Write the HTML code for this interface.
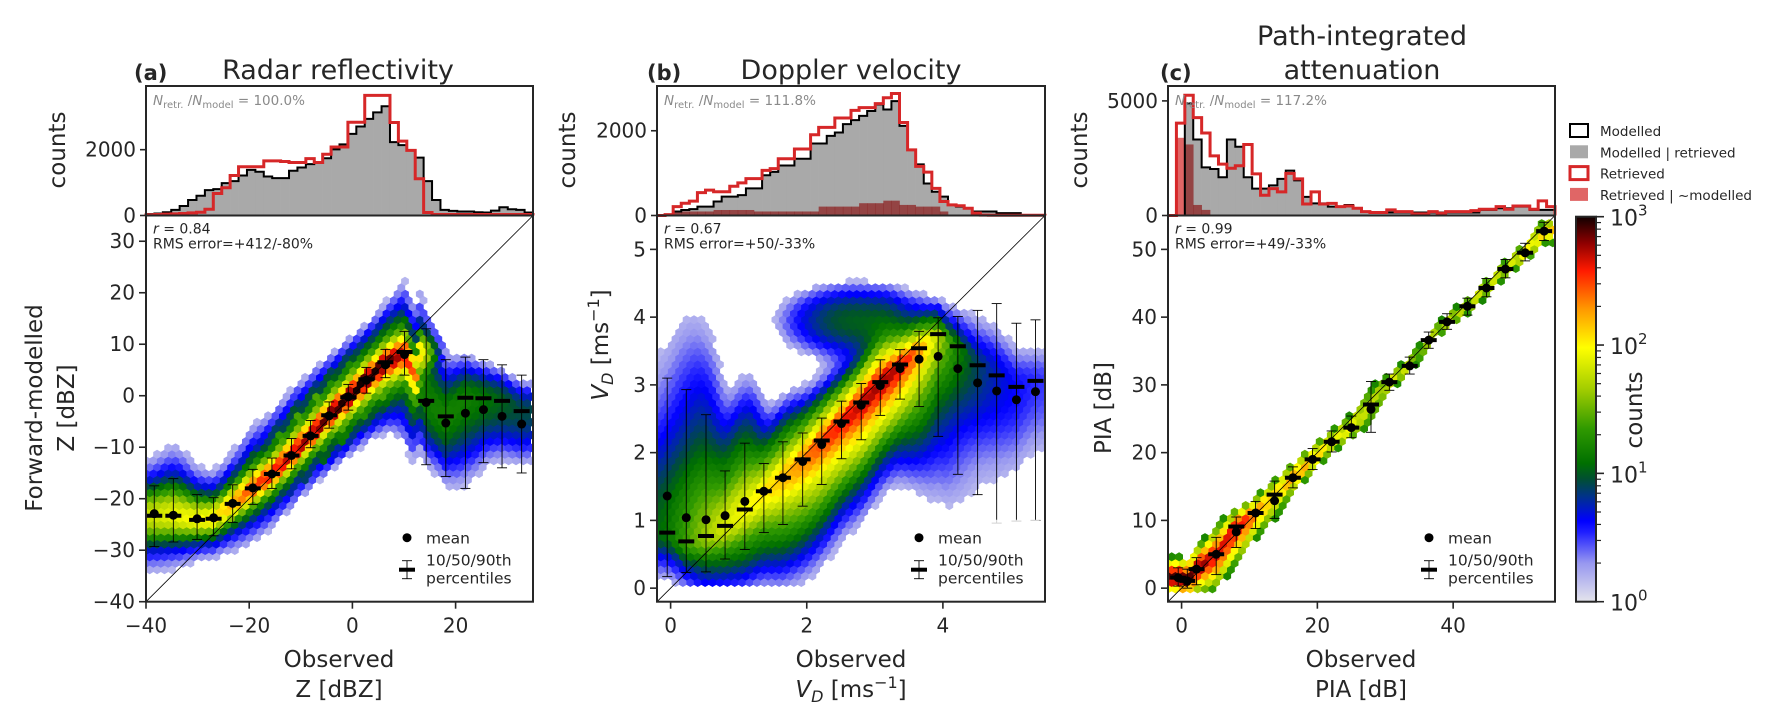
<!DOCTYPE html>
<html><head><meta charset="utf-8">
<style>
html,body{margin:0;padding:0;background:#fff;}
svg{display:block;font-family:"DejaVu Sans","Liberation Sans",sans-serif;}
text{fill:#262626;}
</style></head>
<body>
<svg id="fig" width="1787" height="728" viewBox="0 0 1787 728" xmlns="http://www.w3.org/2000/svg">
<defs>
<linearGradient id="cbgrad" x1="0" y1="1" x2="0" y2="0">
<stop offset="0" stop-color="#e4e4ec"/><stop offset="0.1" stop-color="#9898f0"/><stop offset="0.18" stop-color="#2020ff"/><stop offset="0.21" stop-color="#0000ff"/><stop offset="0.27" stop-color="#003090"/><stop offset="0.32" stop-color="#005030"/><stop offset="0.36" stop-color="#007000"/><stop offset="0.45" stop-color="#309a00"/><stop offset="0.55" stop-color="#a0cc00"/><stop offset="0.66" stop-color="#ffff00"/><stop offset="0.76" stop-color="#ff9900"/><stop offset="0.86" stop-color="#ff1a00"/><stop offset="0.93" stop-color="#900000"/><stop offset="1" stop-color="#100000"/>
</linearGradient>
</defs>
</svg>
<script>
// ---------- data: histograms ----------
const histAModelled=[40,60,100,170,290,470,600,770,800,985,1045,1215,1385,1330,1185,1135,1135,1360,1460,1560,1610,1740,2010,2160,2480,2705,2935,3135,3320,2230,2140,1980,1760,1045,470,170,140,120,120,100,90,150,250,190,170,90];
const histARetrieved=[20,30,40,50,60,80,100,190,670,845,1215,1480,1480,1480,1660,1660,1640,1610,1610,1730,1610,1860,2080,2080,2835,2835,3650,3650,3650,2825,2260,1980,1115,90,30,30,30,30,30,30,30,30,30,30,30,30];
const histAOnlyRetr=[0,0,0,0,0,0,0,0,0,0,0,0,0,0,0,0,0,0,0,0,0,0,0,0,0,0,0,0,0,0,0,0,0,0,0,0,0,0,0,0,0,0,0,0,0,0];
const histBModelled=[0,10,95,130,150,210,210,330,445,445,480,640,640,950,1030,1180,1180,1340,1340,1700,1700,1880,1960,2155,2250,2350,2465,2620,2500,2700,2115,1550,1205,755,560,445,250,210,170,95,95,95,55,55,55,10,5,5];
const histBRetrieved=[0,20,210,290,340,540,600,560,560,690,770,870,870,1065,1105,1340,1340,1570,1570,1905,2080,2080,2300,2300,2480,2545,2545,2640,2780,2880,2195,1550,1160,1025,640,330,250,230,170,55,10,5,5,5,5,5,5,5];
const histBOnlyRetr=[0,0,95,95,95,95,95,130,130,130,130,130,95,95,95,95,95,95,95,95,210,210,210,210,210,290,290,290,350,350,250,250,210,210,210,95,0,0,0,0,0,0,0,0,0,0,0,0];
const histCModelled=[0,0,4890,3315,2100,2030,1670,3315,3000,1670,1170,1170,1315,1600,1960,1530,815,530,530,385,385,460,315,170,130,130,130,130,130,130,130,130,130,130,130,130,130,245,245,315,315,385,385,245,245,245];
const histCRetrieved=[0,4030,5245,4270,3600,2600,2240,2060,2170,3100,1815,885,1170,1030,1840,1600,500,1030,500,530,385,415,315,170,130,130,245,170,170,70,70,170,100,170,170,170,215,270,270,385,270,415,415,270,640,385];
const histCOnlyRetr=[0,3390,3100,460,245,0,0,0,0,0,0,0,0,0,0,0,0,0,0,0,0,0,0,0,0,0,0,0,0,0,0,0,0,0,0,0,0,0,0,0,0,0,0,0,0,0];

// ---------- data: binned statistics ----------
const statAx=[-38.4,-34.7,-30.1,-26.9,-23.2,-19.3,-15.6,-11.8,-8.1,-4.5,-0.8,2.7,6.4,10.1,14.3,18.1,21.9,25.4,29.0,32.8];
const statAmean=[-22.9,-23.2,-23.9,-23.7,-20.9,-17.9,-15.2,-11.6,-7.8,-3.9,-0.2,3.0,6.0,8.0,-1.3,-5.3,-3.4,-2.7,-4.0,-5.5];
const statAmed=[-23.3,-23.3,-24.1,-23.9,-21.0,-18.0,-15.2,-11.6,-7.8,-3.8,-0.3,3.2,6.5,8.5,-1.0,-4.0,-0.4,-0.5,-1.0,-3.0];
const statAp10=[-29.3,-28.4,-27.9,-27.2,-24.6,-21.1,-18.0,-14.2,-10.1,-6.3,-2.8,0.5,3.5,4.0,-13.4,-15.7,-18.0,-13.0,-14.0,-15.0];
const statAp90=[-17.5,-16.1,-19.2,-19.8,-17.3,-14.3,-12.1,-8.3,-4.8,-1.2,2.2,5.5,9.0,12.5,13.0,7.0,7.5,7.0,6.0,4.0];
const peakA=[60,80,90,100,150,300,400,500,600,800,1000,1000,900,400,15,15,15,12,10,8];

const statBx=[-0.05,0.23,0.52,0.80,1.09,1.37,1.65,1.94,2.22,2.51,2.80,3.08,3.37,3.65,3.93,4.22,4.51,4.79,5.08,5.36];
const statBmean=[1.36,1.04,1.01,1.07,1.28,1.43,1.63,1.87,2.12,2.43,2.70,2.99,3.24,3.38,3.42,3.24,3.03,2.91,2.78,2.90];
const statBmed=[0.82,0.69,0.77,0.92,1.16,1.43,1.63,1.90,2.18,2.46,2.74,3.04,3.30,3.54,3.75,3.57,3.29,3.14,2.97,3.06];
const statBp10=[0.17,0.23,0.24,0.43,0.57,0.82,0.94,1.21,1.53,1.91,2.19,2.55,2.79,2.68,2.24,1.68,1.38,0.96,0.99,1.00];
const statBp90=[3.10,2.93,2.56,1.73,2.14,1.84,2.16,2.29,2.51,2.76,3.02,3.37,3.52,3.79,3.99,4.01,4.10,4.20,3.91,3.96];
const peakB=[10,22,40,70,85,110,140,200,300,400,500,600,500,150,30,12,7,5,4,3];

const statCx=[-0.5,0.84,2.2,5.1,8.05,10.9,13.7,16.4,19.3,22.1,25.0,27.9,30.6,33.6,36.4,39.1,42.1,44.9,47.7,50.6,53.4];
const statCmean=[1.55,1.07,2.8,5.0,8.3,11.1,12.9,16.3,19.0,21.6,23.7,26.4,30.4,32.8,36.6,39.3,41.6,44.3,47.1,49.5,52.7];
const statCmed=[1.55,1.07,2.8,5.0,9.1,11.1,13.8,16.3,19.0,21.6,23.7,27.1,30.4,32.8,36.6,39.3,41.6,44.3,47.1,49.5,52.7];
const statCp10=[0.3,0.0,0.5,2.0,6.0,8.8,10.3,14.8,17.5,20.1,22.2,23.0,29.2,31.6,35.4,38.2,40.3,43.0,45.8,48.3,51.3];
const statCp90=[3.0,2.8,4.5,7.5,10.5,12.8,15.8,17.9,20.6,23.2,25.4,30.5,31.6,34.1,37.8,40.5,42.8,45.7,48.5,50.9,54.0];
const peakC=[800,1000,600,400,500,200,100,200,150,80,100,50,80,60,50,60,60,70,60,100,150];

// blob for panel b upper cloud: [cx, cy, sx, sy, peak]
const blobB=[2.7,3.95,0.6,0.3,10];

// ticks
const ticksAx=[-40,-20,0,20], ticksAy=[-40,-30,-20,-10,0,10,20,30];
const ticksBx=[0,2,4], ticksBy=[0,1,2,3,4,5];
const ticksCx=[0,20,40], ticksCy=[0,10,20,30,40,50];
const histTicksA=[0,2000], histTicksB=[0,2000], histTicksC=[0,5000];

// ---------- helpers ----------
const NS='http://www.w3.org/2000/svg';
const svg=document.getElementById('fig');
function el(tag,attrs,parent){const e=document.createElementNS(NS,tag);for(const k in attrs)e.setAttribute(k,attrs[k]);(parent||svg).appendChild(e);return e;}
function lin(d0,d1,p0,p1){return v=>p0+(v-d0)/(d1-d0)*(p1-p0);}
const cstops=[[0,'#e4e4ec'],[0.1,'#9898f0'],[0.18,'#2020ff'],[0.21,'#0000ff'],[0.27,'#003090'],[0.32,'#005030'],[0.36,'#007000'],[0.45,'#309a00'],[0.55,'#a0cc00'],[0.66,'#ffff00'],[0.76,'#ff9900'],[0.86,'#ff1a00'],[0.93,'#900000'],[1,'#100000']];
function hx(h){return [parseInt(h.slice(1,3),16),parseInt(h.slice(3,5),16),parseInt(h.slice(5,7),16)];}
function cmap(t){t=Math.max(0,Math.min(1,t));for(let i=0;i<cstops.length-1;i++){if(t<=cstops[i+1][0]){const a=hx(cstops[i][1]),b=hx(cstops[i+1][1]);const u=(t-cstops[i][0])/(cstops[i+1][0]-cstops[i][0]);return 'rgb('+a.map((v,k)=>Math.round(v+u*(b[k]-v))).join(',')+')';}}return cstops[cstops.length-1][1];}

const HY0=86, HY1=215.5, SY0=215.5, SY1=601.7;
const panels=[
 {id:'a',x0:146,x1:533,xd:[-40,35],yd:[-40,35],hmax:3935,mod:histAModelled,ret:histARetrieved,only:histAOnlyRetr,
  sx:statAx,mean:statAmean,med:statAmed,p10:statAp10,p90:statAp90,peak:peakA,tx:ticksAx,ty:ticksAy,ht:histTicksA,
  core:0.85,coreW:0.5,tail:0.025,tw:2.5,thr:1.5,h:2.3,ymin:-40,ymax:35,blob:null,nrat:'100.0%',r:'0.84',rms:'+412/-80%'},
 {id:'b',x0:657,x1:1045,xd:[-0.2,5.5],yd:[-0.2,5.5],hmax:3056,mod:histBModelled,ret:histBRetrieved,only:histBOnlyRetr,
  sx:statBx,mean:statBmean,med:statBmed,p10:statBp10,p90:statBp90,peak:peakB,tx:ticksBx,ty:ticksBy,ht:histTicksB,
  core:0.65,coreW:0.4,tail:0.03,tw:2.0,thr:1.5,h:0.17,ymin:0.06,ymax:4.6,blob:blobB,nrat:'111.8%',r:'0.67',rms:'+50/-33%'},
 {id:'c',x0:1168,x1:1555,xd:[-2,55],yd:[-2,55],hmax:5650,mod:histCModelled,ret:histCRetrieved,only:histCOnlyRetr,
  sx:statCx,mean:statCmean,med:statCmed,p10:statCp10,p90:statCp90,peak:peakC,tx:ticksCx,ty:ticksCy,ht:histTicksC,
  core:0.5,coreW:0.5,tail:0,tw:1,thr:16,h:1.5,ymin:-0.3,ymax:55,blob:null,nrat:'117.2%',r:'0.99',rms:'+49/-33%'}
];

panels.forEach(P=>{
 const X=lin(P.xd[0],P.xd[1],P.x0,P.x1), Y=lin(P.yd[0],P.yd[1],SY1,SY0), HYs=lin(0,P.hmax,HY1,HY0);
 const g=el('g',{});  
 const hg=el('g',{},g);  
 const n=P.mod.length, bw=(P.xd[1]-P.xd[0])/n;
 for(let k=0;k<n;k++){
  const e0=X(P.xd[0]+k*bw), e1=X(P.xd[0]+(k+1)*bw);
  if(P.mod[k]>0){const r=el('rect',{x:e0,y:HYs(P.mod[k]),width:e1-e0+0.3,height:HY1-HYs(P.mod[k]),fill:'#a9a9a9'},hg);
   }
 }
 for(let k=0;k<n;k++){
  const e0=X(P.xd[0]+k*bw), e1=X(P.xd[0]+(k+1)*bw);
  if(P.only[k]>0){const r=el('rect',{x:e0,y:HYs(P.only[k]),width:e1-e0+0.3,height:HY1-HYs(P.only[k]),fill:'#e06666',style:'mix-blend-mode:multiply'},hg);
   }
 }
 function step(arr){let d='M'+X(P.xd[0])+','+HY1;for(let k=0;k<n;k++){const e0=X(P.xd[0]+k*bw),e1=X(P.xd[0]+(k+1)*bw);const yy=Math.max(HYs(arr[k]),HY0+1);d+=' L'+e0+','+yy+' L'+e1+','+yy;}d+=' L'+X(P.xd[1])+','+HY1;return d;}
 const sm=el('path',{d:step(P.mod),fill:'none',stroke:'#000','stroke-width':2},hg);
 
 const sr=el('path',{d:step(P.ret),fill:'none',stroke:'#d62728','stroke-width':3},hg);
 
 const hf=el('rect',{x:P.x0,y:HY0,width:P.x1-P.x0,height:HY1-HY0,fill:'none',stroke:'#262626','stroke-width':2},g);
 
 P.ht.forEach(v=>{const yy=HYs(v);el('line',{x1:P.x0-6,x2:P.x0,y1:yy,y2:yy,stroke:'#262626','stroke-width':1.6},g);
  const t=el('text',{x:P.x0-10,y:yy+7,'text-anchor':'end','font-size':20},g);t.textContent=v;
  });
 const nr=el('text',{x:P.x0+7,y:HY0+19,'font-size':13.5},g); nr.style.fill='#8a8a8a';
 nr.innerHTML='<tspan font-style="italic">N</tspan><tspan font-size="10" dy="3">retr.</tspan><tspan dy="-3"> /</tspan><tspan font-style="italic">N</tspan><tspan font-size="10" dy="3">model</tspan><tspan dy="-3"> = '+P.nrat+'</tspan>';
 
 // ---- hexbin ----
 const hxg=el('g',{},g);  
 const w=7.4, rr=w/Math.sqrt(3), rs=1.5*rr;
 let pts=[];for(let k=0;k<6;k++){const a=(90+60*k)*Math.PI/180;pts.push([rr*Math.cos(a)*1.06,rr*Math.sin(a)*1.06]);}
 const Xi=lin(P.x0,P.x1,P.xd[0],P.xd[1]), Yi=lin(SY1,SY0,P.yd[0],P.yd[1]);
 function interp(x,ys){const xs=P.sx;if(x<=xs[0])return ys[0];if(x>=xs[xs.length-1])return ys[ys.length-1];for(let i=0;i<xs.length-1;i++){if(x<=xs[i+1]){const t=(x-xs[i])/(xs[i+1]-xs[i]);return ys[i]+t*(ys[i+1]-ys[i]);}}}
 function dens(dx,dy){
  let num=0,den=0;
  for(let k=0;k<P.sx.length;k++){
   const wk=Math.exp(-0.5*((dx-P.sx[k])/P.h)**2); if(wk<1e-4)continue;
   // shift each bin's distribution along the local trend so ridges stay continuous
   const medK=P.med[k], medI=interp(dx,P.med);
   const jump=Math.abs(medI-medK)<6?medI-medK:0;
   const med=medK+jump,su=Math.max((P.p90[k]-medK)/1.28,0.05),sl=Math.max((medK-P.p10[k])/1.28,0.05);
   const z=dy>=med?(dy-med)/su:(med-dy)/sl;
   const c=P.peak[k]*(P.core*Math.exp(-0.5*(z/P.coreW)**2)+(1-P.core)*Math.exp(-0.5*z*z)+P.tail*Math.exp(-0.5*(z/P.tw)**2));
   num+=wk*c;den+=wk;
  }
  let c=den>0?num/den:0;
  if(P.blob){const b=P.blob;c+=b[4]*Math.exp(-0.5*(((dx-b[0])/b[2])**2+((dy-b[1])/b[3])**2));}
  return c;
 }
 for(let j=0;SY1-j*rs>SY0-1;j++){
  const cy=SY1-j*rs;
  for(let i=0;;i++){
   const cx=P.x0+i*w+(j%2?w/2:0); if(cx>P.x1+1)break;
   const dx=Xi(cx), dy=Yi(cy);
   if(dy<P.ymin||dy>P.ymax)continue;
   const c=dens(dx,dy);
   if(c<P.thr)continue;
   const col=cmap(Math.log10(Math.min(c,1000))/3);
   const hp=el('polygon',{points:pts.map(p=>(cx+p[0]).toFixed(1)+','+(cy+p[1]).toFixed(1)).join(' '),fill:col},hxg);
   
   
  }
 }
 const cp=el('clipPath',{id:'clip'+P.id},svg.querySelector('defs'));
 el('rect',{x:P.x0,y:SY0,width:P.x1-P.x0,height:SY1-SY0},cp);
 hxg.setAttribute('clip-path','url(#clip'+P.id+')');
 const dl=el('line',{x1:P.x0,y1:SY1,x2:P.x1,y2:SY0,stroke:'#000','stroke-width':0.8},g);
 
 const sg=el('g',{},g);  
 P.sx.forEach((xv,k)=>{
  const px=X(xv);
  const vl=el('line',{x1:px,x2:px,y1:Y(P.p10[k]),y2:Y(P.p90[k]),stroke:'#000','stroke-width':0.9},sg);
  
  [P.p10[k],P.p90[k]].forEach(v=>{el('line',{x1:px-5,x2:px+5,y1:Y(v),y2:Y(v),stroke:'#000','stroke-width':0.9},sg);});
  const mb=el('line',{x1:px-8,x2:px+8,y1:Y(P.med[k]),y2:Y(P.med[k]),stroke:'#000','stroke-width':4},sg);
  
  const md=el('circle',{cx:px,cy:Y(P.mean[k]),r:4.5,fill:'#000'},sg);
  
 });
 const lg=el('g',{},g);  
 el('rect',{x:P.x1-145,y:SY1-82,width:141,height:78,fill:'#fff','fill-opacity':0.8,rx:3},lg);
 el('circle',{cx:P.x1-126,cy:SY1-64,r:4.5,fill:'#000'},lg);
 let t=el('text',{x:P.x1-107,y:SY1-58,'font-size':15.5},lg);t.textContent='mean';
 el('line',{x1:P.x1-126,x2:P.x1-126,y1:SY1-41,y2:SY1-23,stroke:'#000','stroke-width':0.9},lg);
 el('line',{x1:P.x1-131,x2:P.x1-121,y1:SY1-41,y2:SY1-41,stroke:'#000','stroke-width':0.9},lg);
 el('line',{x1:P.x1-131,x2:P.x1-121,y1:SY1-23,y2:SY1-23,stroke:'#000','stroke-width':0.9},lg);
 el('line',{x1:P.x1-134,x2:P.x1-118,y1:SY1-32,y2:SY1-32,stroke:'#000','stroke-width':4},lg);
 t=el('text',{x:P.x1-107,y:SY1-36,'font-size':15.5},lg);t.textContent='10/50/90th';
 t=el('text',{x:P.x1-107,y:SY1-18,'font-size':15.5},lg);t.textContent='percentiles';
 t=el('text',{x:P.x0+7,y:SY0+18,'font-size':14},g);t.innerHTML='<tspan font-style="italic">r</tspan> = '+P.r;
 
 t=el('text',{x:P.x0+7,y:SY0+33,'font-size':14},g);t.textContent='RMS error='+P.rms;
 
 const sf=el('rect',{x:P.x0,y:SY0,width:P.x1-P.x0,height:SY1-SY0,fill:'none',stroke:'#262626','stroke-width':2},g);
 
 P.tx.forEach(v=>{const xx=X(v);el('line',{x1:xx,x2:xx,y1:SY1,y2:SY1+7,stroke:'#262626','stroke-width':1.6},g);
  const tt=el('text',{x:xx,y:SY1+31,'text-anchor':'middle','font-size':20},g);tt.textContent=v<0?'\u2212'+(-v):v;
  });
 P.ty.forEach(v=>{const yy=Y(v);el('line',{x1:P.x0-7,x2:P.x0,y1:yy,y2:yy,stroke:'#262626','stroke-width':1.6},g);
  const tt=el('text',{x:P.x0-11,y:yy+7,'text-anchor':'end','font-size':20},g);tt.textContent=v<0?'\u2212'+(-v):v;
  });
});

(function(){
 const cx0=1576,cx1=1596,cy0=216.7,cy1=601.7;
 const cg=el('g',{});
 el('rect',{x:cx0,y:cy0,width:cx1-cx0,height:cy1-cy0,fill:'url(#cbgrad)',stroke:'#262626','stroke-width':2},cg);
 const CY=lin(0,3,cy1,cy0);
 for(let d=0;d<3;d++)for(let k=2;k<10;k++){const yy=CY(d+Math.log10(k));el('line',{x1:cx1,x2:cx1+5,y1:yy,y2:yy,stroke:'#262626','stroke-width':1.2},cg);}
 for(let d=0;d<=3;d++){const yy=CY(d);el('line',{x1:cx1,x2:cx1+8,y1:yy,y2:yy,stroke:'#262626','stroke-width':1.6},cg);
  const t=el('text',{x:cx1+14,y:yy+9,'font-size':22},cg);t.innerHTML='10<tspan font-size="15" dy="-10">'+d+'</tspan>';
  }
})();
</script>
<script>
function T(txt,attrs,name,html){const e=document.createElementNS('http://www.w3.org/2000/svg','text');for(const k in attrs)e.setAttribute(k,attrs[k]);if(html)e.innerHTML=txt;else e.textContent=txt;
 
 
 document.getElementById('fig').appendChild(e);}
T('(a)',{x:134,y:80,'font-size':21,'font-weight':'bold'},'panel-label-a');
T('Radar reflectivity',{x:338,y:79,'font-size':27,'text-anchor':'middle'},'title-a');
T('(b)',{x:647,y:80,'font-size':21,'font-weight':'bold'},'panel-label-b');
T('Doppler velocity',{x:851,y:79,'font-size':27,'text-anchor':'middle'},'title-b');
T('(c)',{x:1160,y:80,'font-size':21,'font-weight':'bold'},'panel-label-c');
T('Path-integrated',{x:1362,y:45,'font-size':27,'text-anchor':'middle'},'title-c-line1');
T('attenuation',{x:1362,y:79,'font-size':27,'text-anchor':'middle'},'title-c-line2');
T('counts',{x:0,y:0,'font-size':23,'text-anchor':'middle',transform:'translate(65,150) rotate(-90)'},'hist-y-label-a');
T('counts',{x:0,y:0,'font-size':23,'text-anchor':'middle',transform:'translate(575,150) rotate(-90)'},'hist-y-label-b');
T('counts',{x:0,y:0,'font-size':23,'text-anchor':'middle',transform:'translate(1087,150) rotate(-90)'},'hist-y-label-c');
T('Forward-modelled',{x:0,y:0,'font-size':23,'text-anchor':'middle',transform:'translate(42,408) rotate(-90)'},'y-label-a-line1');
T('Z [dBZ]',{x:0,y:0,'font-size':23,'text-anchor':'middle',transform:'translate(74,408) rotate(-90)'},'y-label-a-line2');
T('<tspan font-style="italic">V</tspan><tspan font-style="italic" font-size="16" dy="5">D</tspan><tspan dy="-5"> [ms</tspan><tspan font-size="16" dy="-9">\u22121</tspan><tspan dy="9">]</tspan>',{x:0,y:0,'font-size':23,'text-anchor':'middle',transform:'translate(608,345) rotate(-90)'},'y-label-b',true);
T('PIA [dB]',{x:0,y:0,'font-size':23,'text-anchor':'middle',transform:'translate(1111,408) rotate(-90)'},'y-label-c');
T('Observed',{x:339,y:667,'font-size':23,'text-anchor':'middle'},'x-label-a-line1');
T('Z [dBZ]',{x:339,y:697,'font-size':23,'text-anchor':'middle'},'x-label-a-line2');
T('Observed',{x:851,y:667,'font-size':23,'text-anchor':'middle'},'x-label-b-line1');
T('<tspan font-style="italic">V</tspan><tspan font-style="italic" font-size="16" dy="5">D</tspan><tspan dy="-5"> [ms</tspan><tspan font-size="16" dy="-9">\u22121</tspan><tspan dy="9">]</tspan>',{x:851,y:697,'font-size':23,'text-anchor':'middle'},'x-label-b-line2',true);
T('Observed',{x:1361,y:667,'font-size':23,'text-anchor':'middle'},'x-label-c-line1');
T('PIA [dB]',{x:1361,y:697,'font-size':23,'text-anchor':'middle'},'x-label-c-line2');
T('counts',{x:0,y:0,'font-size':23,'text-anchor':'middle',transform:'translate(1642,410) rotate(-90)'},'colorbar-label');
(function(){const s=document.getElementById('fig');const NS='http://www.w3.org/2000/svg';
 const g=document.createElementNS(NS,'g');s.appendChild(g);
 const items=[['Modelled','#fff','#000',2],['Modelled | retrieved','#a9a9a9','none',0],['Retrieved','#fff','#d62728',3],['Retrieved | ~modelled','#e06666','none',0]];
 items.forEach((it,i)=>{const y=131+i*21.3;
  const r=document.createElementNS(NS,'rect');r.setAttribute('x',1570);r.setAttribute('y',y-7);r.setAttribute('width',18);r.setAttribute('height',13);r.setAttribute('fill',it[1]);r.setAttribute('stroke',it[2]);r.setAttribute('stroke-width',it[3]);g.appendChild(r);
  const t=document.createElementNS(NS,'text');t.setAttribute('x',1600);t.setAttribute('y',y+5);t.setAttribute('font-size',13.5);t.textContent=it[0];g.appendChild(t);});
})();
</script>
</body></html>
